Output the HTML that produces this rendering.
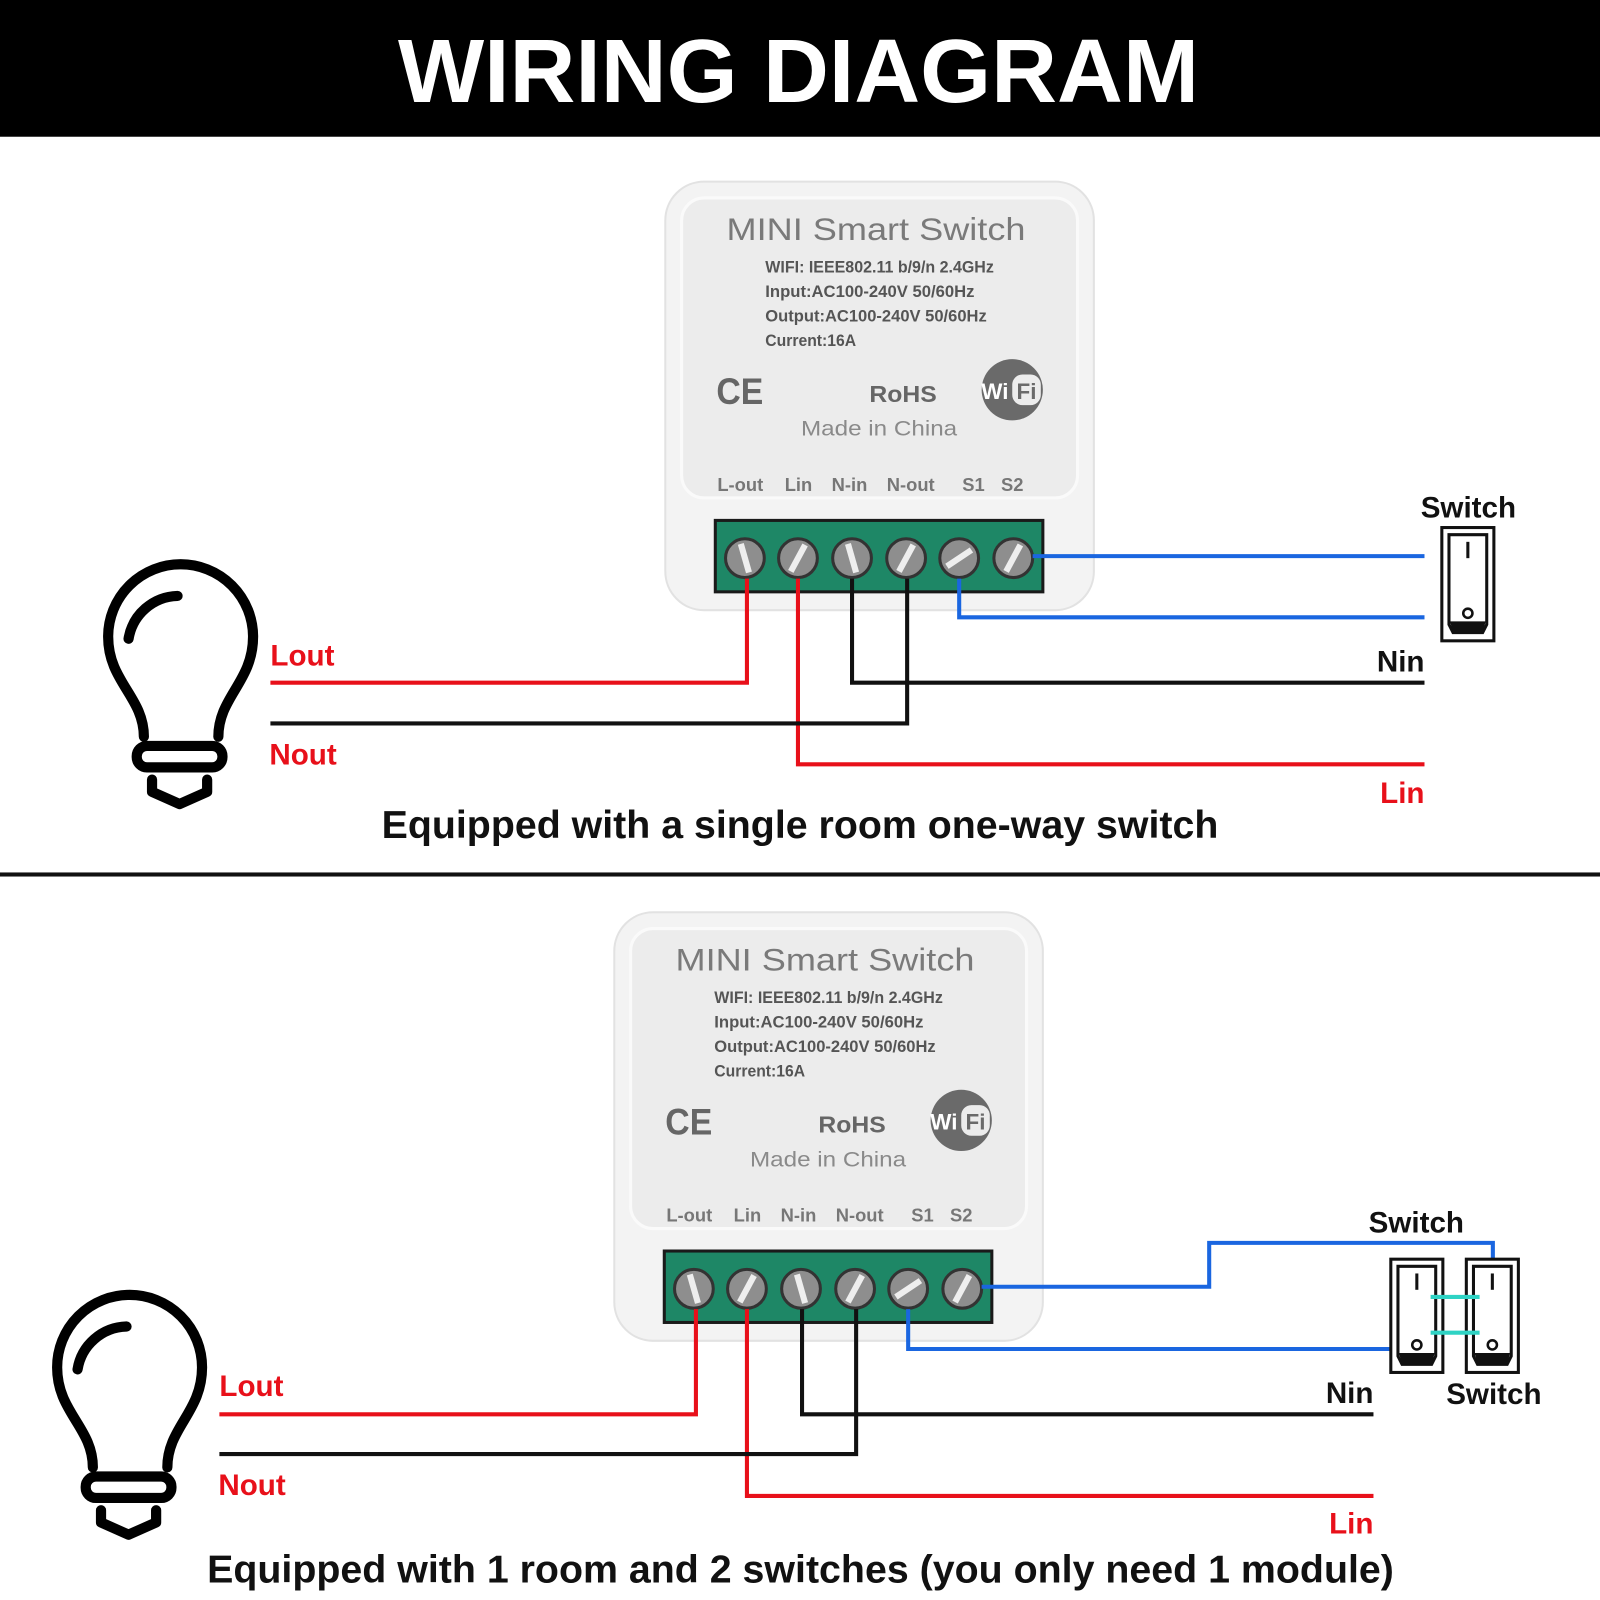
<!DOCTYPE html>
<html><head><meta charset="utf-8"><style>
html,body{margin:0;padding:0;background:#fff;}
svg{display:block;}
text{font-family:"Liberation Sans",sans-serif;}
</style></head><body>
<svg width="1600" height="1600" viewBox="0 0 1568 1568" xmlns="http://www.w3.org/2000/svg">
<defs>
<g id="bulb" fill="none" stroke="#000" stroke-width="10" stroke-linecap="round" stroke-linejoin="round">
  <path d="M141 722 C141 683 106 668 106 624 A71 71 0 1 1 248 624 C248 668 214 683 214 722"/>
  <path d="M126 626 A50 50 0 0 1 174 584"/>
  <rect x="134" y="731" width="84" height="21" rx="10"/>
  <path d="M149 764 V776 L176 788 L203 776 V764"/>
</g>
<g id="module">
  <rect x="652" y="178" width="420" height="420" rx="38" fill="#f3f3f3" stroke="#e2e2e2" stroke-width="2"/>
  <rect x="668" y="194" width="388" height="294" rx="22" fill="#ececec" stroke="#fafafa" stroke-width="3"/>
  <text x="712" y="235" font-size="31" fill="#7a7a7a" textLength="293" lengthAdjust="spacingAndGlyphs">MINI Smart Switch</text>
  <g font-family="Liberation Sans Narrow, Liberation Sans, sans-serif" font-weight="bold" font-size="16" fill="#555">
    <text x="750" y="267" textLength="224" lengthAdjust="spacingAndGlyphs">WIFI: IEEE802.11 b/9/n 2.4GHz</text>
    <text x="750" y="291" textLength="205" lengthAdjust="spacingAndGlyphs">Input:AC100-240V 50/60Hz</text>
    <text x="750" y="315" textLength="217" lengthAdjust="spacingAndGlyphs">Output:AC100-240V 50/60Hz</text>
    <text x="750" y="339" textLength="89" lengthAdjust="spacingAndGlyphs">Current:16A</text>
  </g>
  <text x="702" y="396" font-size="36" fill="#666" font-weight="bold" textLength="46" lengthAdjust="spacingAndGlyphs">CE</text>
  <text x="852" y="394" font-size="23" fill="#666" font-weight="bold" textLength="66" lengthAdjust="spacingAndGlyphs">RoHS</text>
  <circle cx="992" cy="382" r="30" fill="#6a6a6a"/>
  <rect x="992" y="367" width="28" height="30" rx="10" fill="#ececec"/>
  <text x="975" y="391" font-size="22" fill="#fff" font-weight="bold" text-anchor="middle">Wi</text>
  <text x="1006" y="391" font-size="22" fill="#6a6a6a" font-weight="bold" text-anchor="middle">Fi</text>
  <text x="785" y="427" font-size="21" fill="#8a8a8a" textLength="153" lengthAdjust="spacingAndGlyphs">Made in China</text>
  <g font-size="18" fill="#777" font-weight="bold">
    <text x="703" y="481">L-out</text><text x="769" y="481">Lin</text><text x="815" y="481">N-in</text>
    <text x="869" y="481">N-out</text><text x="943" y="481">S1</text><text x="981" y="481">S2</text>
  </g>
  <rect x="701" y="510" width="321" height="70" fill="#1e8766" stroke="#1a1a1a" stroke-width="3"/>
  <g fill="#8e8e8e" stroke="#333" stroke-width="3">
    <circle cx="730" cy="547" r="19"/><circle cx="782" cy="547" r="19"/><circle cx="835" cy="547" r="19"/>
    <circle cx="888" cy="547" r="19"/><circle cx="940" cy="547" r="19"/><circle cx="993" cy="547" r="19"/>
  </g>
  <g stroke="#eee" stroke-width="6">
    <path d="M726 533 L734 561"/><path d="M775 560 L789 534"/><path d="M831 533 L839 561"/>
    <path d="M881 560 L895 534"/><path d="M928 555 L952 539"/><path d="M986 560 L1000 534"/>
  </g>
</g>
<g id="sw">
  <rect x="0" y="0" width="51" height="111" fill="#fff" stroke="#111" stroke-width="3"/>
  <path d="M7 7 H44 V95 L40 103 H11 L7 95 Z" fill="#fff" stroke="#111" stroke-width="3"/>
  <path d="M8 92 H43 L40 103 H11 Z" fill="#111"/>
  <line x1="25.5" y1="14" x2="25.5" y2="30" stroke="#111" stroke-width="3"/>
  <circle cx="25.5" cy="84" r="4.5" fill="none" stroke="#111" stroke-width="2.5"/>
</g>
</defs>

<rect x="0" y="0" width="1568" height="134" fill="#000"/>
<text x="390" y="100" font-size="88" font-weight="bold" fill="#fff" textLength="785" lengthAdjust="spacingAndGlyphs">WIRING DIAGRAM</text>

<!-- Section 1 -->
<use href="#bulb"/>
<use href="#module"/>
<g fill="none" stroke-width="4">
  <path d="M732 567 V669 H265" stroke="#e8101a"/>
  <path d="M782 567 V749 H1396" stroke="#e8101a"/>
  <path d="M835 567 V669 H1396" stroke="#111"/>
  <path d="M889 567 V709 H265" stroke="#111"/>
  <path d="M940 567 V605 H1396" stroke="#1a66e0"/>
  <path d="M1012 545 H1396" stroke="#1a66e0"/>
</g>
<use href="#sw" x="1413" y="517"/>
<g font-size="29" font-weight="bold">
  <text x="265" y="652" fill="#e8101a">Lout</text>
  <text x="264" y="749" fill="#e8101a">Nout</text>
  <text x="1396" y="658" fill="#111" text-anchor="end">Nin</text>
  <text x="1396" y="787" fill="#e8101a" text-anchor="end">Lin</text>
  <text x="1439" y="507" fill="#111" text-anchor="middle">Switch</text>
</g>
<text x="374" y="821" font-size="38" font-weight="bold" fill="#111" textLength="820" lengthAdjust="spacingAndGlyphs">Equipped with a single room one-way switch</text>
<rect x="0" y="855" width="1568" height="4" fill="#111"/>

<!-- Section 2 -->
<g transform="translate(-50,716)">
  <use href="#bulb"/>
  <use href="#module"/>
</g>
<g fill="none" stroke-width="4">
  <path d="M682 1283 V1386 H215" stroke="#e8101a"/>
  <path d="M732 1283 V1466 H1346" stroke="#e8101a"/>
  <path d="M786 1283 V1386 H1346" stroke="#111"/>
  <path d="M839 1283 V1425 H215" stroke="#111"/>
  <path d="M890 1283 V1322 H1363" stroke="#1a66e0"/>
  <path d="M962 1261 H1185 V1218 H1463 V1235" stroke="#1a66e0"/>
</g>
<use href="#sw" x="1363" y="1234"/>
<use href="#sw" x="1437" y="1234"/>
<g stroke="#2ed3c4" stroke-width="4">
  <line x1="1402" y1="1271" x2="1450" y2="1271"/>
  <line x1="1402" y1="1306" x2="1450" y2="1306"/>
</g>
<g font-size="29" font-weight="bold">
  <text x="215" y="1368" fill="#e8101a">Lout</text>
  <text x="214" y="1465" fill="#e8101a">Nout</text>
  <text x="1346" y="1375" fill="#111" text-anchor="end">Nin</text>
  <text x="1346" y="1503" fill="#e8101a" text-anchor="end">Lin</text>
  <text x="1388" y="1208" fill="#111" text-anchor="middle">Switch</text>
  <text x="1464" y="1376" fill="#111" text-anchor="middle">Switch</text>
</g>
<text x="203" y="1551" font-size="38" font-weight="bold" fill="#111" textLength="1163" lengthAdjust="spacingAndGlyphs">Equipped with 1 room and 2 switches (you only need 1 module)</text>
</svg>
</body></html>
